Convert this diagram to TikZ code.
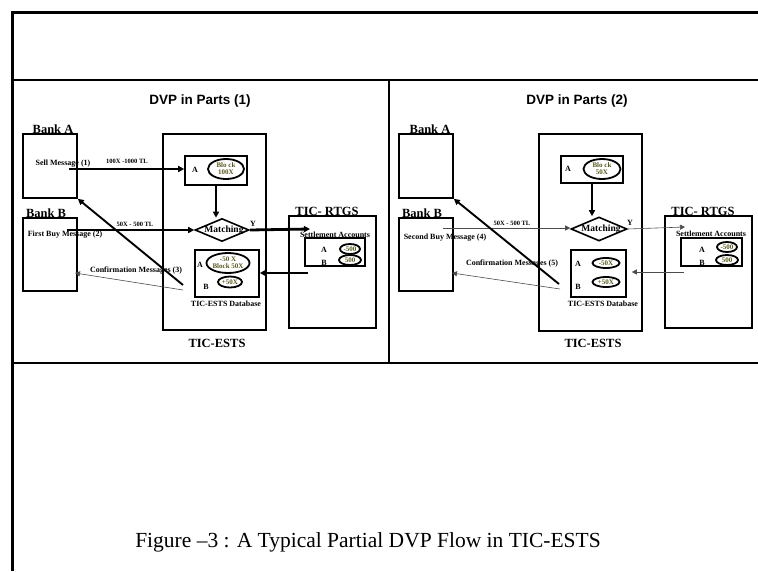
\documentclass[tikz,border=0pt]{standalone}
\usepackage{fontspec}
\setmainfont{Liberation Serif}
\newfontfamily\arialf{Liberation Sans}
\usetikzlibrary{shapes.geometric,arrows.meta,calc}
\definecolor{olv}{RGB}{88,88,30}
\tikzset{
  boxnode/.style={draw, line width=1.6pt, inner sep=0pt},
  ovalnode/.style={draw, ellipse, line width=1.8pt, inner sep=0pt},
  ovtxt/.style={inner sep=0pt, text=olv, align=center, font=\fontsize{7}{6.8}\selectfont\bfseries},
  lbl/.style={inner sep=0pt, font=\fontsize{8}{9}\selectfont\bfseries},
  smlbl/.style={inner sep=0pt, font=\fontsize{6.5}{7}\selectfont\bfseries},
  biglbl/.style={inner sep=0pt, anchor=base, font=\fontsize{12.5}{13}\selectfont\bfseries},
  ttl/.style={inner sep=0pt, anchor=base, font=\arialf\fontsize{13.5}{15}\selectfont\bfseries},
  dia/.style={draw, diamond, line width=1.6pt, inner sep=0pt},
  tarr/.style={line width=2.8pt, -{Triangle[length=6pt,width=6pt]}},
  marr/.style={line width=1.9pt, -{Triangle[length=6pt,width=6pt]}},
  narr/.style={line width=0.6pt, draw=black!70, -{Triangle[length=5pt,width=5pt]}},
}
\begin{document}
\begin{tikzpicture}[x=1pt,y=-1pt]
\useasboundingbox (0,0) rectangle (758,571);
% frame
\draw[line width=3pt] (12,571) -- (12,12) -- (758,12);
\draw[line width=1.3pt] (12,80) -- (758,80);
\draw[line width=1.3pt] (12,363) -- (758,363);
\draw[line width=1.3pt] (389,80) -- (389,363);

% ================= Panel 1 =================
\node[ttl] (t1) at (200,104) {DVP in Parts (1)};
\node[biglbl] (bal1) at (53,133) {Bank A};
\node[biglbl] (bbl1) at (46,217) {Bank B};
\node[boxnode, minimum width=54pt, minimum height=64pt] (bankA1) at (50,166) {};
\node[boxnode, minimum width=54pt, minimum height=73pt] (bankB1) at (50,254.5) {};
\node[lbl] (sell1) at (63,164) {Sell Message (1)};
\node[lbl] (fb1) at (65,234.5) {First Buy Message (2)};
\node[smlbl] (m1) at (127,161.5) {100X -1000 TL};
\node[smlbl] (m2) at (135,224.5) {50X - 500 TL};
\node[lbl] (cm1) at (136,270.5) {Confirmation Messages (3)};

\node[boxnode, minimum width=103pt, minimum height=196pt] (est1) at (214.5,232) {};
\node[biglbl] (estl1) at (217,347) {TIC-ESTS};
\node[boxnode, minimum width=62pt, minimum height=29pt] (abox1) at (216,170.5) {};
\node[lbl] (aa1) at (195,170) {A};
\node[ovalnode, minimum width=36pt, minimum height=20pt] (ea1) at (226,169) {};
\node[ovtxt] (ea1t) at (ea1) {Blo ck\\100X};
\node[dia, minimum width=54pt, minimum height=23pt] (dm1) at (222,230) {};
\node[inner sep=0pt, font=\fontsize{9.5}{10}\selectfont\bfseries] (dm1t) at (224,230.5) {Matching};
\node[lbl] (y1) at (253,224) {Y};

\node[boxnode, minimum width=64pt, minimum height=47pt] (db1) at (227,273.5) {};
\node[lbl] (dba1) at (200,265) {A};
\node[ovalnode, minimum width=43pt, minimum height=20pt] (eb1) at (228,263) {};
\node[ovtxt] (eb1t) at (eb1) {-50 X\\Block 50X};
\node[lbl] (dbb1) at (206,287) {B};
\node[ovalnode, minimum width=24pt, minimum height=11pt] (ec1) at (230,282) {};
\node[ovtxt] (ec1t) at (ec1) {+50X};
\node[lbl] (dbl1) at (226,304) {TIC-ESTS Database};

\node[boxnode, minimum width=87pt, minimum height=112pt] (rt1) at (332.5,272) {};
\node[biglbl] (rtl1) at (327,215) {TIC- RTGS};
\node[lbl] (sa1) at (335,235) {Settlement Accounts};
\node[boxnode, minimum width=60pt, minimum height=28pt] (sb1) at (335,252) {};
\node[lbl] (saa1) at (324,250) {A};
\node[ovalnode, minimum width=20pt, minimum height=10pt] (sea1) at (350,249) {};
\node[ovtxt] (sea1t) at (sea1) {-500};
\node[lbl] (sab1) at (324,263) {B};
\node[ovalnode, minimum width=22pt, minimum height=10pt] (seb1) at (350,260) {};
\node[ovtxt] (seb1t) at (seb1) {500};

\coordinate (s1) at (69,169);
\coordinate (b1) at (67,230);
\coordinate (r1) at (310,229);
\coordinate (r1b) at (308,273);
\coordinate (c1) at (183,285);
\coordinate (c2) at (183,290);
\coordinate (cb1) at (75,273);
\draw[tarr] (s1) -- (s1 -| abox1.west);
\draw[tarr] (b1) -- (b1 -| dm1.west);
\draw[tarr] (abox1.south) -- (abox1.south |- dm1.north);
\draw[tarr] (dm1.east) -- (r1);
\draw[tarr] (r1b) -- (r1b -| db1.east);
\draw[marr] (c1) -- (bankA1.south east);
\draw[narr] (c2) -- (cb1);

% ================= Panel 2 =================
\node[ttl] (t2) at (577,104) {DVP in Parts (2)};
\node[biglbl] (bal2) at (430,133) {Bank A};
\node[biglbl] (bbl2) at (422,217) {Bank B};
\node[boxnode, minimum width=54pt, minimum height=64pt] (bankA2) at (426,166) {};
\node[boxnode, minimum width=54pt, minimum height=73pt] (bankB2) at (426,254.5) {};
\node[lbl] (sb2l) at (445,238) {Second Buy Message (4)};
\node[smlbl] (m3) at (512,223) {50X - 500 TL};
\node[lbl] (cm2) at (512,264) {Confirmation Messages (5)};

\node[boxnode, minimum width=103pt, minimum height=197pt] (est2) at (590.5,232.5) {};
\node[biglbl] (estl2) at (593,347) {TIC-ESTS};
\node[boxnode, minimum width=62pt, minimum height=27pt] (abox2) at (592,169.5) {};
\node[lbl] (aa2) at (568,169) {A};
\node[ovalnode, minimum width=37pt, minimum height=20pt] (ea2) at (602,169) {};
\node[ovtxt] (ea2t) at (ea2) {Blo ck\\50X};
\node[dia, minimum width=56pt, minimum height=24pt] (dm2) at (599,229) {};
\node[inner sep=0pt, font=\fontsize{9.5}{10}\selectfont\bfseries] (dm2t) at (601,229.5) {Matching};
\node[lbl] (y2) at (630,223) {Y};

\node[boxnode, minimum width=55pt, minimum height=47pt] (db2) at (598.5,273.5) {};
\node[lbl] (dba2) at (578,264) {A};
\node[ovalnode, minimum width=27pt, minimum height=10pt] (eb2) at (606,263) {};
\node[ovtxt] (eb2t) at (eb2) {-50X};
\node[lbl] (dbb2) at (578,287) {B};
\node[ovalnode, minimum width=27pt, minimum height=10pt] (ec2) at (606,282) {};
\node[ovtxt] (ec2t) at (ec2) {+50X};
\node[lbl] (dbl2) at (603,304) {TIC-ESTS Database};

\node[boxnode, minimum width=87pt, minimum height=112pt] (rt2) at (708.5,272) {};
\node[biglbl] (rtl2) at (703,215) {TIC- RTGS};
\node[lbl] (sa2) at (711,234) {Settlement Accounts};
\node[boxnode, minimum width=61pt, minimum height=28pt] (sb2) at (711.5,252) {};
\node[lbl] (saa2) at (702,250) {A};
\node[ovalnode, minimum width=20pt, minimum height=10pt] (sea2) at (727,247) {};
\node[ovtxt] (sea2t) at (sea2) {-500};
\node[lbl] (sab2) at (702,263) {B};
\node[ovalnode, minimum width=22pt, minimum height=10pt] (seb2) at (727,260) {};
\node[ovtxt] (seb2t) at (seb2) {500};

\coordinate (b2) at (443,228);
\coordinate (r2) at (685,227);
\coordinate (r2b) at (684,272);
\coordinate (c3) at (559,284);
\coordinate (c4) at (560,289);
\coordinate (cb2) at (452,273);
\draw[narr] (b2) -- (b2 -| dm2.west);
\draw[tarr] (abox2.south) -- (abox2.south |- dm2.north);
\draw[narr] (dm2.east) -- (r2);
\draw[narr, shorten >=5pt] (r2b) -- (r2b -| db2.east);
\draw[marr] (c3) -- (bankA2.south east);
\draw[narr] (c4) -- (cb2);

% caption
\node[inner sep=0pt, anchor=base, font=\fontsize{21.5}{23}\selectfont] (cap) at (368,547) {Figure --3 : A Typical Partial DVP Flow in TIC-ESTS};
\end{tikzpicture}
\end{document}
